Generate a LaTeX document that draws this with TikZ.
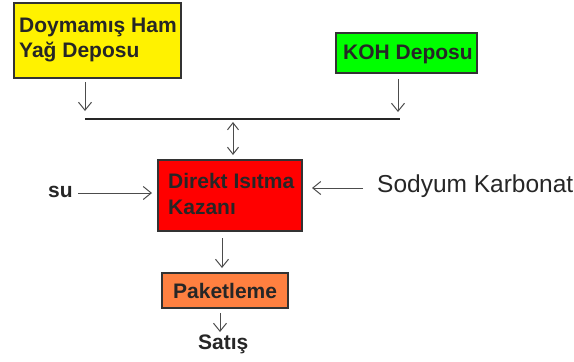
\documentclass[tikz,border=0pt]{standalone}
\usepackage{fontspec}
\setmainfont{Liberation Sans}
\usetikzlibrary{arrows.meta}
\tikzset{
  box/.style={draw=black!80, line width=1.3pt, inner sep=0pt},
  lbl/.style={font=\fontsize{21}{25}\selectfont\bfseries, text=black!85, inner sep=0pt, anchor=base west},
  arr/.style={draw=black!70, line width=1pt, -{Straight Barb[length=8pt,width=13pt]}},
  darr/.style={draw=black!70, line width=1pt, {Straight Barb[length=7pt,width=11pt]}-{Straight Barb[length=7pt,width=11pt]}},
  ln/.style={draw=black!85, line width=1.2pt}
}
\begin{document}
\begin{tikzpicture}[x=1pt,y=-1pt]
\useasboundingbox (0,0) rectangle (574,362);
% boxes
\node[box, fill=yellow, minimum width=167pt, minimum height=75pt] (yag) at (97.5,40.5) {};
\node[lbl] (yag1) at (19,32) {Doymamış Ham};
\node[lbl] (yag2) at (19,57) {Yağ Deposu};
\node[box, fill={rgb,255:red,0;green,255;blue,0}, minimum width=141pt, minimum height=40pt] (koh) at (406.5,53) {};
\node[lbl] (koht) at (343,59) {KOH Deposu};
\node[box, fill=red, minimum width=144pt, minimum height=71pt] (kaz) at (230,195.5) {};
\node[lbl] (kaz1) at (168,188) {Direkt Isıtma};
\node[lbl] (kaz2) at (168,214) {Kazanı};
\node[box, fill={rgb,255:red,255;green,128;blue,64}, minimum width=126pt, minimum height=35pt] (pak) at (225,290.5) {};
\node[lbl] (pakt) at (173,298) {Paketleme};
\node[lbl] (sat) at (198,349) {Satış};
\node[lbl] (su) at (48,197) {su};
\node[font=\fontsize{24.5}{28}\selectfont, text=black!85, anchor=base west, inner sep=0pt] (sod) at (377,192) {Sodyum Karbonat};
% connectors
\coordinate (hl) at (85,119);
\coordinate (hr) at (400,119);
\coordinate (ya) at (85,82);
\coordinate (yb) at (85,111);
\coordinate (ka) at (398,79);
\coordinate (kb) at (398,112);
\coordinate (da) at (233,122);
\coordinate (db) at (233,155);
\coordinate (sua) at (78,193);
\coordinate (sub) at (152,193);
\coordinate (soa) at (363,188);
\coordinate (sob) at (312,188);
\coordinate (pa) at (222,238);
\coordinate (pb) at (222,268);
\coordinate (sa) at (220,313);
\coordinate (sb) at (220,332);
\draw[ln] (hl) -- (hr);
\draw[arr] (ya) -- (yb);
\draw[arr] (ka) -- (kb);
\draw[darr] (da) -- (db);
\draw[arr] (sua) -- (sub);
\draw[arr] (soa) -- (sob);
\draw[arr] (pa) -- (pb);
\draw[arr] (sa) -- (sb);
\end{tikzpicture}
\end{document}
